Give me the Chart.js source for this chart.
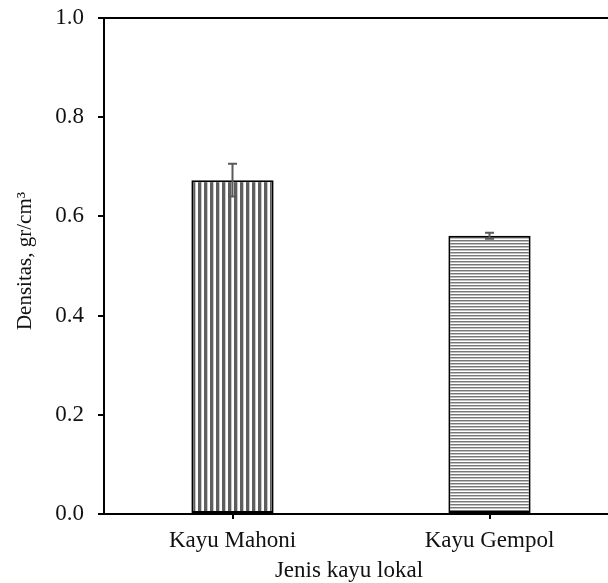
<!DOCTYPE html>
<html>
<head>
<meta charset="utf-8">
<script src="https://cdn.jsdelivr.net/npm/chart.js@4.4.1/dist/chart.umd.min.js"></script>
<style>
html,body{margin:0;padding:0;background:#fff;overflow:hidden;width:608px;height:583px;}
#wrap{position:absolute;left:0;top:0;width:622px;height:583px;}
</style>
</head>
<body>
<div id="wrap"><canvas id="c" width="622" height="583"></canvas></div>
<script>
const categories = ["Kayu Mahoni", "Kayu Gempol"];
const densitas = [0.673, 0.561];
const galat = [0.033, 0.006];
const yTicks = [0.0, 0.2, 0.4, 0.6, 0.8, 1.0];
const xTitle = "Jenis kayu lokal";
const yTitle = "Densitas, gr/cm\u00B3";

const FONT = "'Liberation Serif', 'Times New Roman', serif";

function stripePattern(vertical) {
  const cv = document.createElement('canvas');
  const ctx = cv.getContext('2d');
  if (vertical) {
    cv.width = 6; cv.height = 1;
    ctx.fillStyle = '#ffffff'; ctx.fillRect(0,0,6,1);
    ctx.fillStyle = '#5e5e5e'; ctx.fillRect(0,0,3,1);
    ctx.fillStyle = '#c8c8c8'; ctx.fillRect(3,0,1,1);
  } else {
    cv.width = 1; cv.height = 3;
    ctx.fillStyle = '#ffffff'; ctx.fillRect(0,0,1,3);
    ctx.fillStyle = '#777777'; ctx.fillRect(0,0,1,1);
    ctx.fillStyle = '#c0c0c0'; ctx.fillRect(0,1,1,1);
  }
  return ctx.createPattern(cv, 'repeat');
}

const errorBars = {
  id: 'errorBars',
  afterDatasetsDraw(chart) {
    const ctx = chart.ctx;
    const meta = chart.getDatasetMeta(0);
    const y = chart.scales.y;
    ctx.save();
    ctx.strokeStyle = '#5a5a5a';
    ctx.lineWidth = 2;
    meta.data.forEach((bar, i) => {
      const x = bar.x;
      const top = y.getPixelForValue(densitas[i] + galat[i]);
      const bot = y.getPixelForValue(densitas[i] - galat[i]);
      ctx.beginPath();
      ctx.moveTo(x, top); ctx.lineTo(x, bot);
      ctx.moveTo(x - 4.5, top); ctx.lineTo(x + 4.5, top);
      ctx.moveTo(x - 4.5, bot); ctx.lineTo(x + 4.5, bot);
      ctx.stroke();
    });
    ctx.restore();
  }
};

const frameAndTitles = {
  id: 'frameAndTitles',
  afterDraw(chart) {
    const ctx = chart.ctx;
    const a = chart.chartArea;
    ctx.save();
    ctx.strokeStyle = '#000';
    ctx.lineWidth = 2;
    ctx.beginPath();
    ctx.moveTo(a.left - 1, a.top);
    ctx.lineTo(a.right, a.top);
    ctx.stroke();
    ctx.fillStyle = '#111';
    ctx.font = "23px " + FONT;
    ctx.textAlign = 'center';
    ctx.textBaseline = 'middle';
    ctx.fillText(xTitle, 349, 571);
    ctx.font = "21px " + FONT;
    ctx.translate(25, 261);
    ctx.rotate(-Math.PI / 2);
    ctx.fillText(yTitle, 0, 0);
    ctx.restore();
  }
};

new Chart(document.getElementById('c'), {
  type: 'bar',
  data: {
    labels: categories,
    datasets: [{
      data: densitas,
      backgroundColor: [stripePattern(true), stripePattern(false)],
      borderColor: '#000',
      borderWidth: 2,
      borderSkipped: false,
      barPercentage: 0.64,
      categoryPercentage: 0.5
    }]
  },
  options: {
    responsive: false,
    animation: false,
    events: [],
    layout: { padding: { left: 0, top: 18, right: 4, bottom: 0 } },
    plugins: { legend: { display: false }, tooltip: { enabled: false } },
    scales: {
      x: {
        afterFit(s) { s.height = 69; s.paddingLeft = 0; s.paddingRight = 0; },
        grid: { offset: false, drawOnChartArea: false, drawTicks: true, tickLength: 5, color: '#000', lineWidth: 2 },
        border: { display: true, color: '#000', width: 2 },
        ticks: { color: '#111', font: { family: FONT, size: 23 }, padding: 8, maxRotation: 0 }
      },
      y: {
        min: 0, max: 1,
        afterFit(s) { s.width = 104; s.paddingTop = 0; s.paddingBottom = 0; },
        afterBuildTicks(s) { s.ticks = yTicks.map(v => ({ value: v })); },
        grid: { drawOnChartArea: false, drawTicks: true, tickLength: 6, color: '#000', lineWidth: 2 },
        border: { display: true, color: '#000', width: 2 },
        ticks: { color: '#111', font: { family: FONT, size: 23 }, padding: 14,
                 callback: v => Number(v).toFixed(1) }
      }
    }
  },
  plugins: [errorBars, frameAndTitles]
});
</script>
</body>
</html>
